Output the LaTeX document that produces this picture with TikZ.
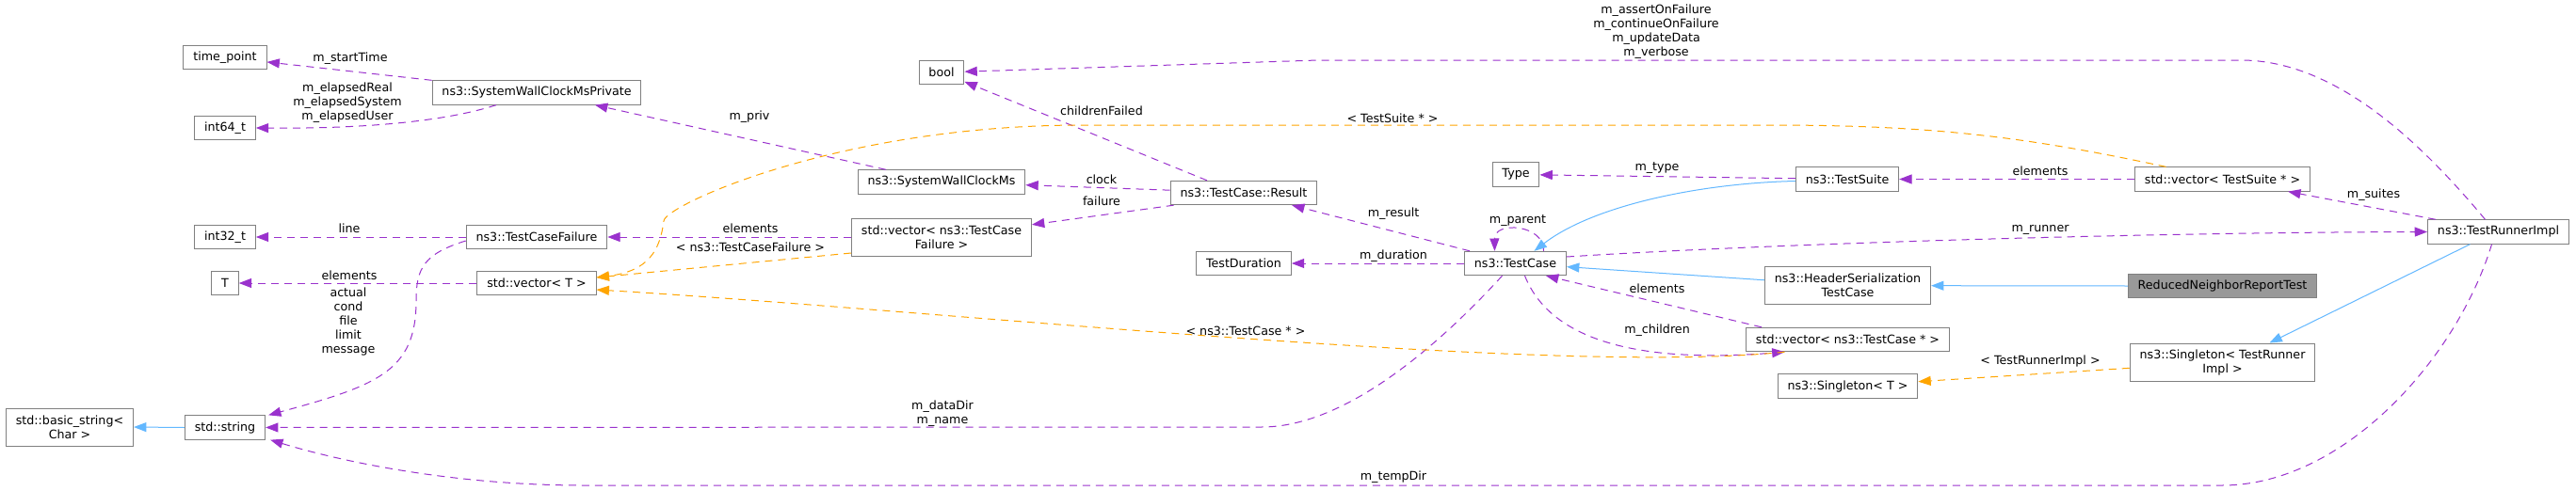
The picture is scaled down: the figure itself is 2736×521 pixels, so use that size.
\documentclass[tikz,border=0pt]{standalone}
\usepackage{fontspec}
\setmainfont{DejaVu Sans}
\usepackage{xcolor}
\usepackage{tikz}
\usetikzlibrary{arrows.meta, calc}
\definecolor{usecolor}{HTML}{9A32CD}
\definecolor{tmplcolor}{HTML}{FFA500}
\definecolor{inhcolor}{HTML}{63B8FF}
\definecolor{framecolor}{HTML}{808080}
\definecolor{focuscolor}{HTML}{999999}

\begin{document}
\begin{tikzpicture}[
    x=0.75pt, y=-0.75pt,
    entity/.style={draw=framecolor, line width=0.75pt, fill=white, minimum height=19pt, inner xsep=7.8pt, inner ysep=2pt, font=\fontsize{9.5pt}{11.25pt}\selectfont, align=center},
    tall/.style={minimum height=30pt},
    focus/.style={entity, fill=focuscolor},
    uses/.style={-{Triangle[length=10pt, width=7.5pt]}, usecolor, line width=0.75pt, dash pattern=on 6pt off 4.5pt},
    instance/.style={uses, tmplcolor},
    inherits/.style={-{Triangle[length=10pt, width=7.5pt]}, inhcolor, line width=0.75pt},
    elabel/.style={text=black, font=\fontsize{9.5pt}{11.25pt}\selectfont, align=center, inner sep=0pt}
]
    \path[use as bounding box, fill=white] (0,0) rectangle (2736,521);

    % Classes
    \node[entity] (tp) at (239,61) {time\_point};
    \node[entity] (swcp) at (570,98.5) {ns3::SystemWallClockMsPrivate};
    \node[entity] (i64) at (239,136) {int64\_t};
    \node[entity] (i32) at (239,252) {int32\_t};
    \node[entity] (tT) at (239,301) {T};
    \node[entity, tall] (bstr) at (74,454) {std::basic\_string<\\Char >};
    \node[entity] (str) at (239,454.5) {std::string};
    \node[entity] (tcf) at (570,252) {ns3::TestCaseFailure};
    \node[entity] (vecT) at (570,301) {std::vector< T >};
    \node[entity] (boolt) at (1000,77) {bool};
    \node[entity] (swc) at (1000,193.5) {ns3::SystemWallClockMs};
    \node[entity, tall] (vtcf) at (1000,252) {std::vector< ns3::TestCase\\Failure >};
    \node[entity] (res) at (1321,205) {ns3::TestCase::Result};
    \node[entity] (dur) at (1321,280) {TestDuration};
    \node[entity] (tc) at (1609.5,280) {ns3::TestCase};
    \node[entity] (typ) at (1610,185.5) {Type};
    \node[entity] (ts) at (1962,190.5) {ns3::TestSuite};
    \node[entity, tall] (hstc) at (1962.5,303.7) {ns3::HeaderSerialization\\TestCase};
    \node[entity] (vtc) at (1962.5,361) {std::vector< ns3::TestCase * >};
    \node[entity] (sgT) at (1962.5,410.5) {ns3::Singleton< T >};
    \node[entity] (vts) at (2360.5,190.5) {std::vector< TestSuite * >};
    \node[focus] (rnrt) at (2360.5,304) {ReducedNeighborReportTest};
    \node[entity, tall] (sgR) at (2360.5,385) {ns3::Singleton< TestRunner\\Impl >};
    \node[entity] (tri) at (2653.5,246.5) {ns3::TestRunnerImpl};

    % Members
    \draw[uses] (swcp.north west) -- (tp) node[elabel] (lstart) at (372,62) {m\_startTime};
    \draw[uses] ($(swcp.south)+(-43,0)$) .. controls (470,130) and (380,137) .. (i64.east)
        node[elabel] (lelapsed) at (369,109) {m\_elapsedReal\\m\_elapsedSystem\\m\_elapsedUser};
    \draw[uses] ($(swc.north)+(-59,0)$) -- ($(swcp.south)+(62,0)$) node[elabel] (lpriv) at (796,124) {m\_priv};
    \draw[uses] ($(res.north)+(-39,0)$) -- (boolt) node[elabel] (lchild) at (1170,118) {childrenFailed};
    \draw[uses] (res) -- (swc) node[elabel] (lclock) at (1170,191) {clock};
    \draw[uses] ($(res.south west)+(4,0)$) -- (vtcf) node[elabel] (lfail) at (1170,214) {failure};
    \draw[uses] (vtcf.west) -- (tcf.east) node[elabel] (lelemf) at (797,243) {elements};
    \draw[uses] (vecT.west) -- (tT.east) node[elabel] (lelemt) at (371,293) {elements};
    \draw[uses] (tcf.west) -- (i32.east) node[elabel] (lline) at (371,243) {line};
    \draw[uses] ($(tcf.west)+(0,4)$) .. controls (450,270) and (442,285) .. (442,320)
        .. controls (442,395) and (400,410) .. ($(str.north east)+(3,0)$)
        node[elabel] (lfields) at (370,342) {actual\\cond\\file\\limit\\message};
    \draw[uses] ($(tc.south)+(-14,0)$) .. controls (1530,365) and (1430,454) .. (1340,454) -- (str)
        node[elabel] (lname) at (1001,440) {m\_dataDir\\m\_name};
    \draw[uses] ($(tri.south)+(-7,0)$) .. controls (2610,380) and (2490,516) .. (2360,516) -- (620,516)
        .. controls (480,516) and (360,490) .. ($(str.south east)+(5,0)$)
        node[elabel] (ltemp) at (1480,507) {m\_tempDir};
    \draw[uses] ($(tri.north)+(-14,0)$) .. controls (2570,150) and (2480,64) .. (2380,64) -- (1400,64) -- (boolt)
        node[elabel] (lflags) at (1759,34) {m\_assertOnFailure\\m\_continueOnFailure\\m\_updateData\\m\_verbose};
    \draw[uses] ($(vtc.north west)+(17,0)$) -- ($(tc.south east)+(-22,0)$) node[elabel] (lelemc) at (1760,307) {elements};
    \draw[uses] ($(tc.south)+(10,0)$) .. controls (1650,370) and (1760,385) .. ($(vtc.south)+(-67,0)$)
        node[elabel] (lchildren) at (1760,351) {m\_children};
    \draw[uses] ($(tc.north)+(30,0)$) .. controls (1640,238) and (1587,235) .. ($(tc.north)+(-22,0)$)
        node[elabel] (lparent) at (1612,235) {m\_parent};
    \draw[uses] ($(tc.north west)+(6,0)$) -- (res) node[elabel] (lresult) at (1480,227) {m\_result};
    \draw[uses] (tc.west) -- (dur.east) node[elabel] (ldur) at (1480,272) {m\_duration};
    \draw[uses] (ts) -- (typ) node[elabel] (ltype) at (1760,179) {m\_type};
    \draw[uses] (vts.west) -- (ts.east) node[elabel] (lelems) at (2167,182) {elements};
    \draw[uses] ($(tri.north west)+(9,0)$) -- (vts) node[elabel] (lsuites) at (2521,207) {m\_suites};
    \draw[uses] ($(tc.east)+(0,-7)$) .. controls (1900,258) and (2300,247) .. (tri.west)
        node[elabel] (lrunner) at (2167,244) {m\_runner};

    % Template instances
    \draw[instance] ($(vtcf.west)+(0,17)$) -- ($(vecT.east)+(0,-6)$) node[elabel] (ltcf) at (797,263) {< ns3::TestCaseFailure >};
    \draw[instance] ($(vts.north)+(-60,0)$) .. controls (2150,145) and (2050,133) .. (1880,133) -- (1150,133)
        .. controls (890,133) and (705,219) .. (705,235) .. controls (701,265) and (690,288) .. ($(vecT.east)+(0,-6)$)
        node[elabel] (lsuite) at (1479,126) {< TestSuite * >};
    \draw[instance] ($(vtc.south)+(-67,0)$) .. controls (1650,400) and (1000,330) .. ($(vecT.east)+(0,7)$)
        node[elabel] (lcase) at (1323,352) {< ns3::TestCase * >};
    \draw[instance] (sgR) -- (sgT) node[elabel] (lrunnerimpl) at (2167,384) {< TestRunnerImpl >};

    % Inheritance
    \draw[inherits] (str.west) -- (bstr.east);
    \draw[inherits] ($(ts.west)+(0,2)$) .. controls (1800,195) and (1690,220) .. ($(tc.north)+(20,0)$);
    \draw[inherits] (hstc) -- (tc);
    \draw[inherits] (rnrt.west) -- (hstc.east);
    \draw[inherits] ($(tri.south)+(-30,0)$) -- ($(sgR.north)+(50,0)$);

\end{tikzpicture}
\end{document}
